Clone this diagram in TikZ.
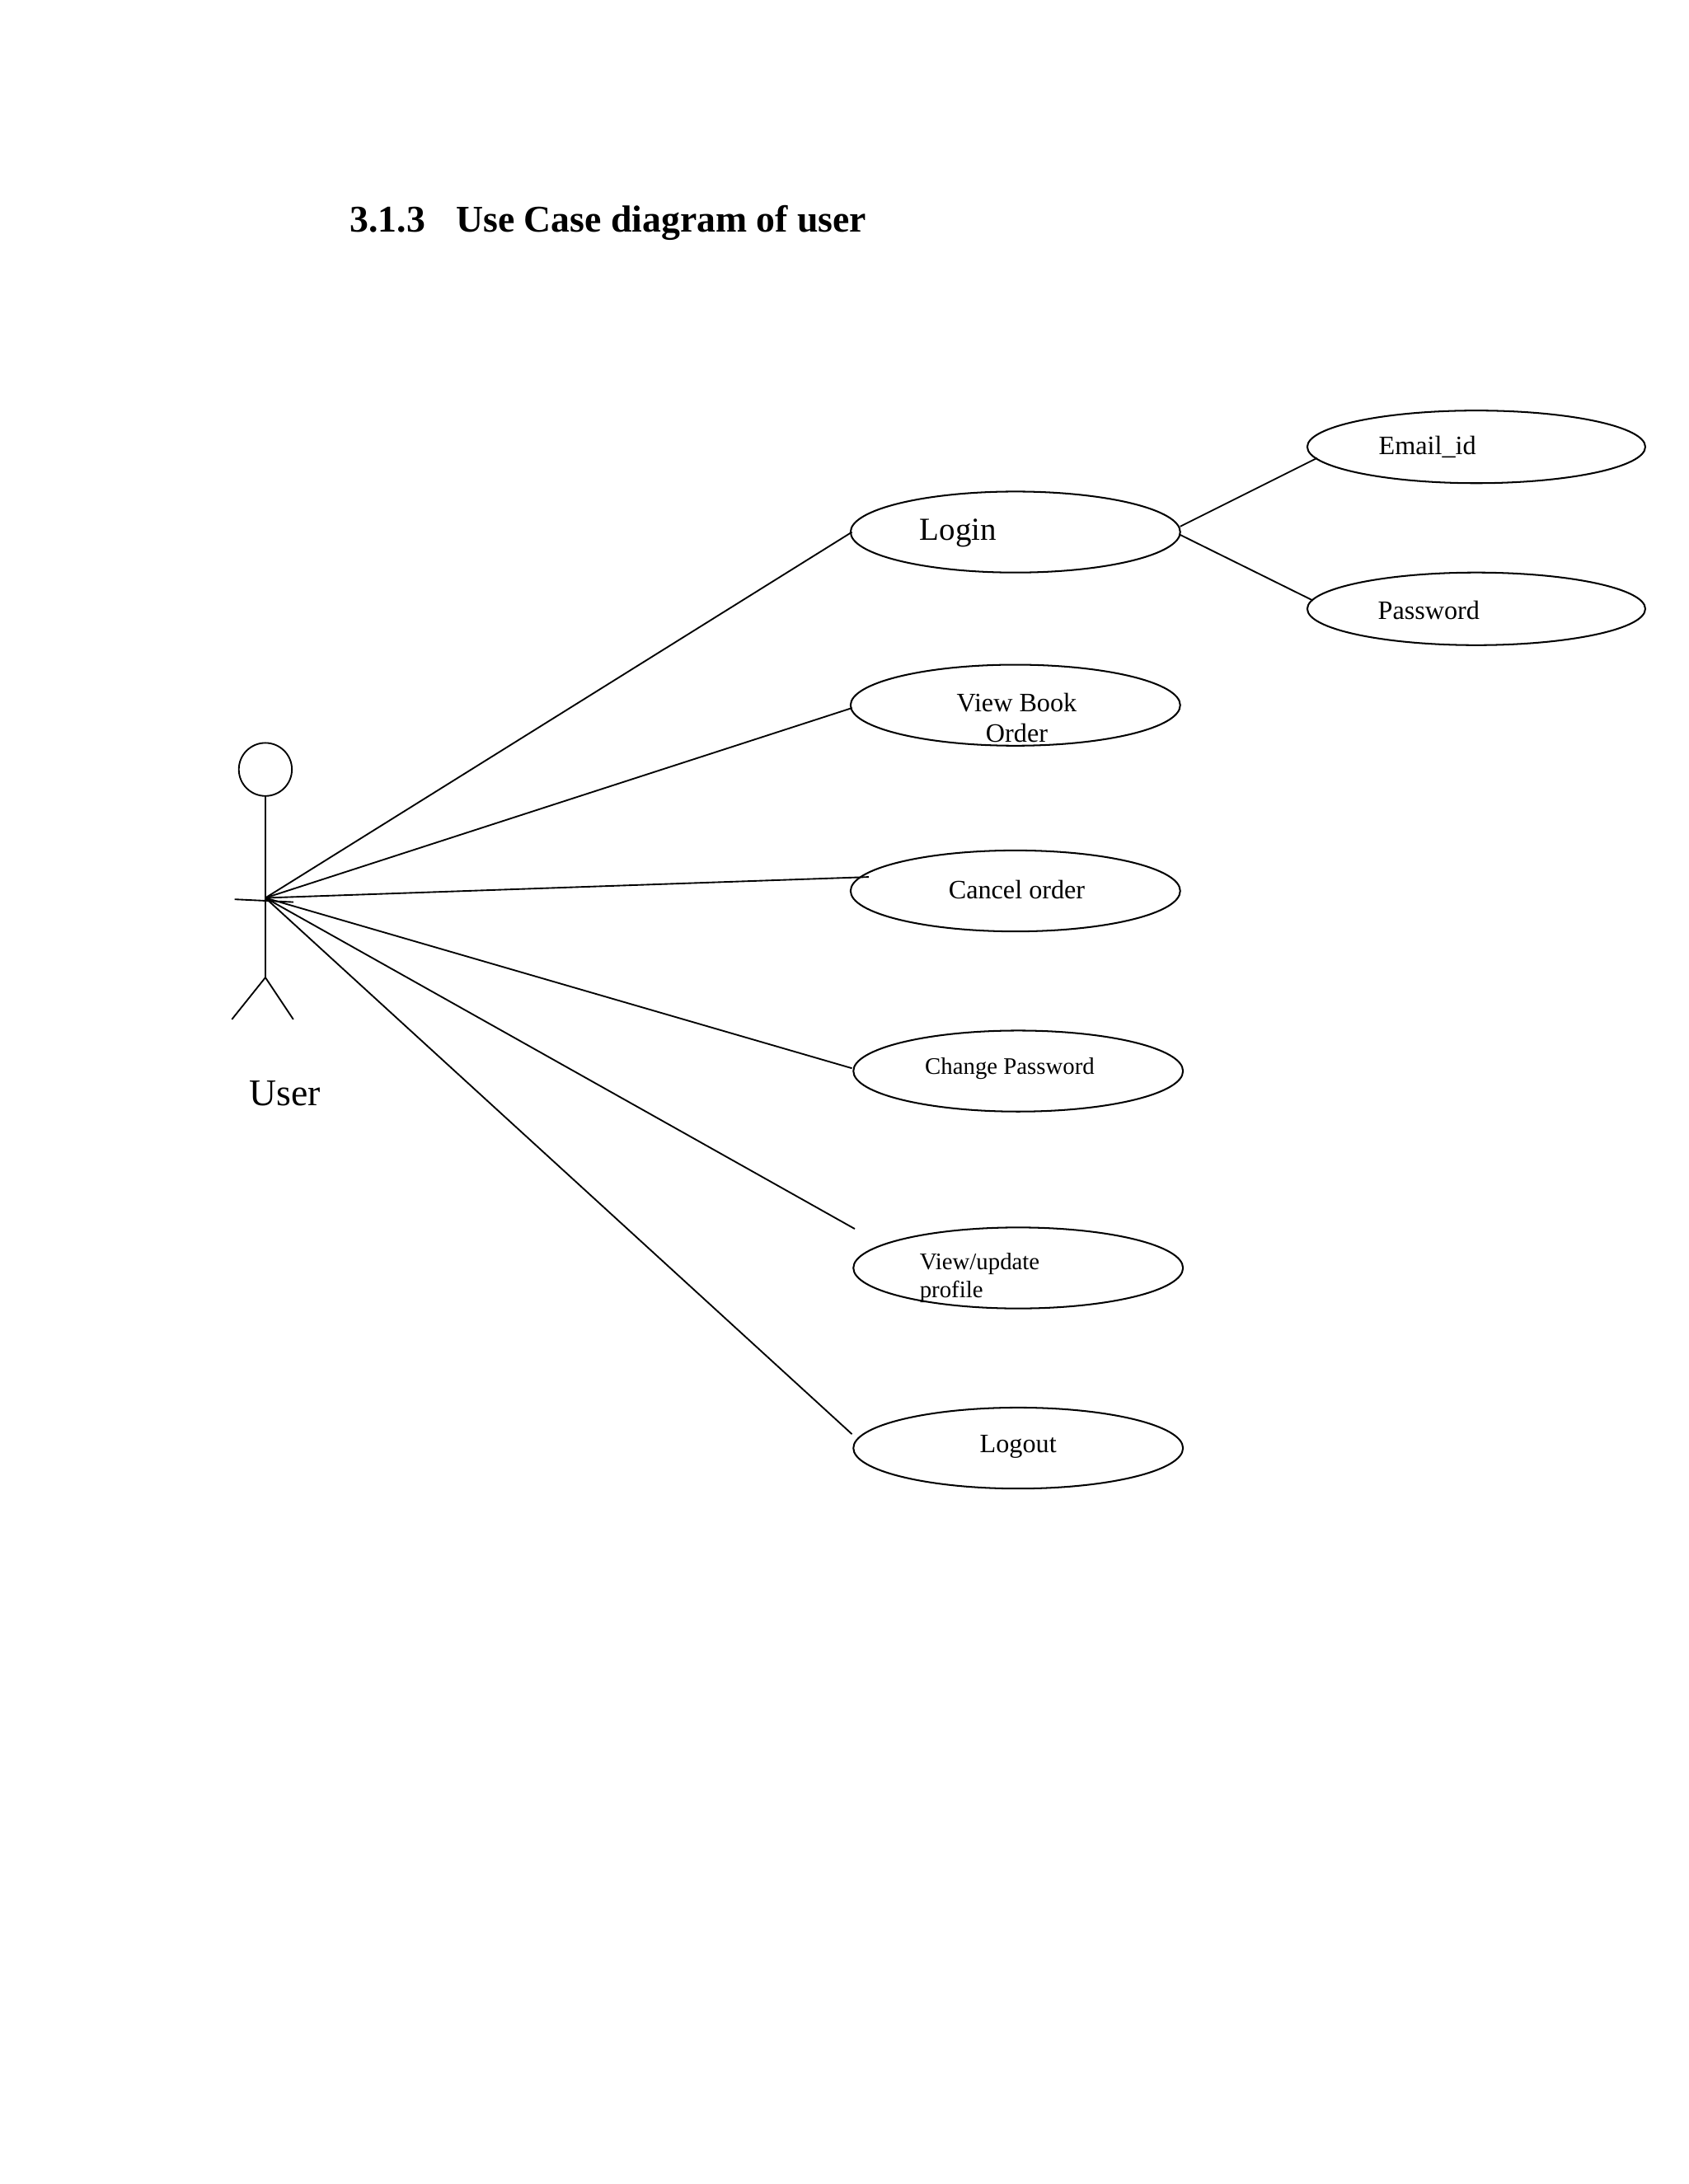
\documentclass[tikz,border=0pt]{standalone}
\usepackage{fontspec}
\setmainfont{Liberation Serif}
\begin{document}
\begin{tikzpicture}[x=1pt,y=-1pt,
  uc/.style={draw,line width=1.2pt},
  ln/.style={line width=1.1pt},
  lbl/.style={font=\fontsize{19}{21}\selectfont,align=center}]
\useasboundingbox (0,0) rectangle (1209,1564);
\node[anchor=base west,font=\fontsize{27}{30}\selectfont\bfseries] (title) at (247,166) {3.1.3\hspace{22pt}Use Case diagram of user};
% use cases
\draw[uc] (727,381) ellipse [x radius=118,y radius=29];
\draw[uc] (727,505) ellipse [x radius=118,y radius=29];
\draw[uc] (727,638) ellipse [x radius=118,y radius=29];
\draw[uc] (729,767) ellipse [x radius=118,y radius=29];
\draw[uc] (729,908) ellipse [x radius=118,y radius=29];
\draw[uc] (729,1037) ellipse [x radius=118,y radius=29];
\draw[uc] (1057,320) ellipse [x radius=121,y radius=26];
\draw[uc] (1057,436) ellipse [x radius=121,y radius=26];
\node[lbl,font=\fontsize{23}{25}\selectfont] (login) at (686,382) {Login};
\node[lbl,font=\fontsize{19}{22}\selectfont] (vbo) at (728,514) {View Book\\Order};
\node[lbl] (cancel) at (728,637) {Cancel order};
\node[lbl,font=\fontsize{17}{19}\selectfont] (cp) at (723,765) {Change Password};
\node[lbl,align=left,anchor=west,font=\fontsize{17}{20}\selectfont] (vup) at (655,915) {View/update\\profile};
\node[lbl] (logout) at (729,1036) {Logout};
\node[lbl] (email) at (1022,320) {Email\_id};
\node[lbl] (pw) at (1023,437) {Password};
% actor
\draw[ln] (190,551) circle (19);
\draw[ln] (190,570) -- (190,700);
\draw[ln] (168,644) -- (210,646);
\draw[ln] (166,730) -- (190,700) -- (210,730);
\node[font=\fontsize{27}{30}\selectfont] (user) at (204,783) {User};
\coordinate (hand) at (190,643);
\draw[ln] (hand) -- (610,381);
\draw[ln] (hand) -- (610,507);
\draw[ln] (hand) -- (622,628);
\draw[ln] (hand) -- (610,765);
\draw[ln] (hand) -- (612,880);
\draw[ln] (hand) -- (610,1027);
\draw[ln] (845,377) -- (943,328);
\draw[ln] (845,383) -- (940,430);
\end{tikzpicture}
\end{document}
